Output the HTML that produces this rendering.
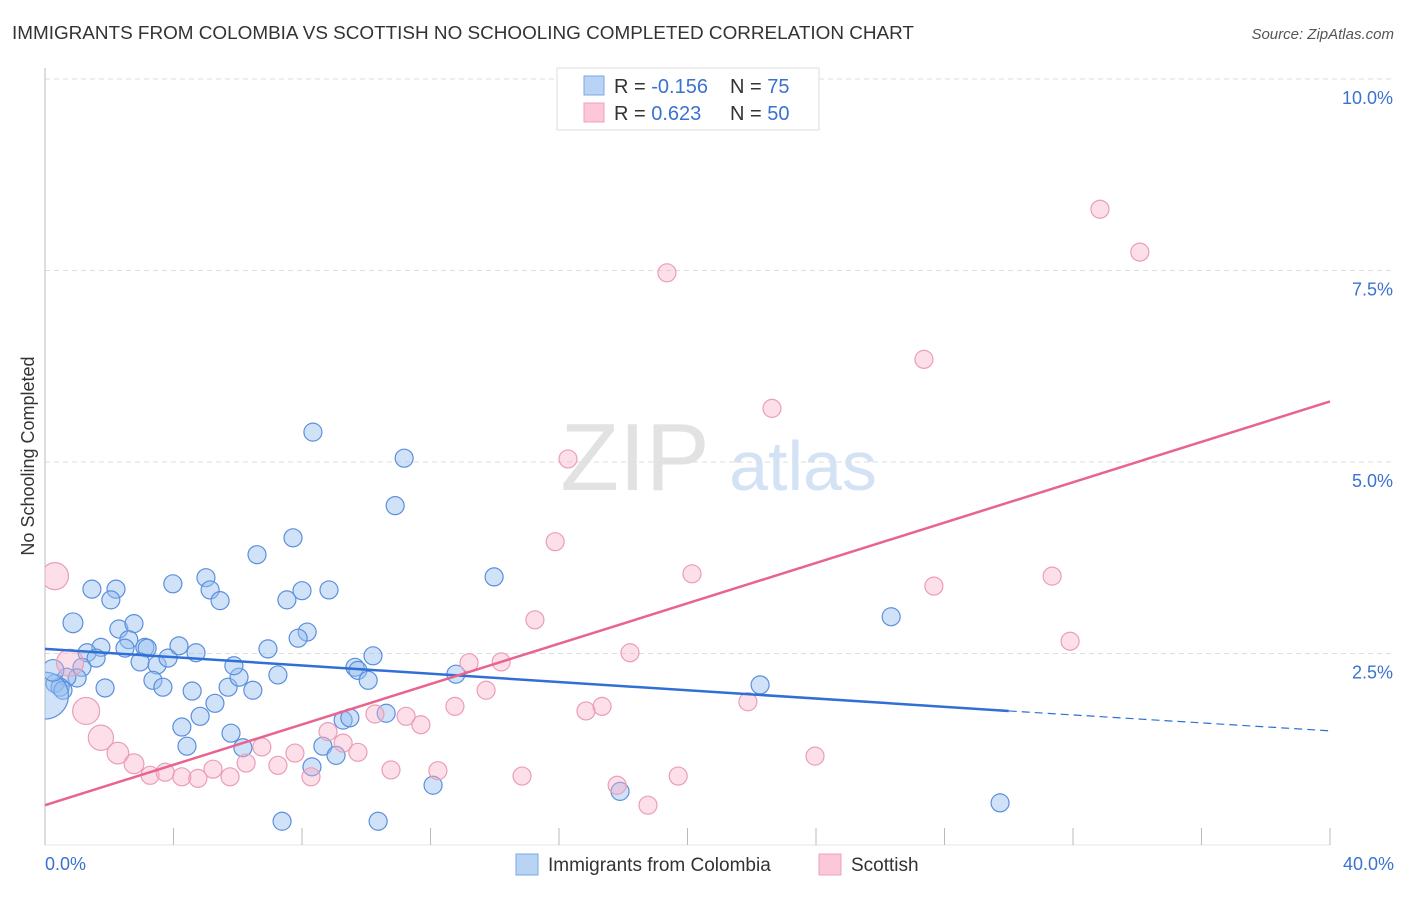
<!DOCTYPE html>
<html><head><meta charset="utf-8"><style>
body{margin:0;background:#fff;font-family:"Liberation Sans",sans-serif;}
svg text{font-family:"Liberation Sans",sans-serif;}
</style></head><body>
<svg id="chart" width="1406" height="892" xmlns="http://www.w3.org/2000/svg">
<defs><clipPath id="plotclip"><rect x="45" y="60" width="1360" height="786"/></clipPath></defs>
<text x="12" y="39" font-size="18.9" fill="#333">IMMIGRANTS FROM COLOMBIA VS SCOTTISH NO SCHOOLING COMPLETED CORRELATION CHART</text>
<text x="1394" y="39" font-size="15" fill="#555" text-anchor="end" font-style="italic">Source: ZipAtlas.com</text>
<text transform="translate(34,456) rotate(-90)" font-size="18" fill="#333" text-anchor="middle">No Schooling Completed</text>
<g>
<text x="635" y="490" font-size="96" fill="#e2e2e2" text-anchor="middle" font-family="Liberation Serif">ZIP</text>
<text x="803" y="490" font-size="70" fill="#d3e2f5" text-anchor="middle">atlas</text>
</g>
<g id="grid"></g>
<g id="axes"></g>
<g id="points" clip-path="url(#plotclip)"></g>
<g id="trends"></g>
<g>
<rect x="557" y="68" width="262" height="62" fill="#fff" stroke="#ddd"/>
<rect x="584" y="76" width="20" height="19" fill="#b9d3f5" stroke="#7aa8e6"/>
<rect x="584" y="103" width="20" height="19" fill="#fcc8d8" stroke="#eda2bb"/>
<text x="614" y="93" font-size="20" fill="#333">R = <tspan fill="#3b72d0">-0.156</tspan></text>
<text x="730" y="93" font-size="20" fill="#333">N = <tspan fill="#3b72d0">75</tspan></text>
<text x="614" y="120" font-size="20" fill="#333">R = <tspan fill="#3b72d0"> 0.623</tspan></text>
<text x="730" y="120" font-size="20" fill="#333">N = <tspan fill="#3b72d0">50</tspan></text>
</g>
<g>
<rect x="516" y="854" width="22" height="21" fill="#b9d3f5" stroke="#7aa8e6"/>
<text x="548" y="871" font-size="19" fill="#333">Immigrants from Colombia</text>
<rect x="819" y="854" width="22" height="21" fill="#fcc8d8" stroke="#eda2bb"/>
<text x="851" y="871" font-size="19" fill="#333">Scottish</text>
</g>
</svg>
<script>
const blueX=[1.46,2.21,2.05,3.98,5.01,5.14,5.45,0.87,2.30,2.77,2.61,2.49,3.11,3.18,1.74,1.31,1.59,1.15,1.00,0.68,0.31,0.47,0.56,0.0,0.25,1.87,2.96,3.49,3.83,4.17,4.70,3.36,3.67,4.58,5.70,6.04,5.88,6.47,6.94,7.25,5.29,4.83,4.26,4.42,5.79,6.16,6.60,7.72,7.53,8.00,8.84,8.16,7.88,9.65,9.74,10.06,10.21,10.62,9.28,9.49,8.65,9.06,8.31,12.08,7.38,10.37,12.79,8.34,11.18,10.90,13.98,26.34,22.26,29.73,17.90];
const blueY=[3.34,3.34,3.20,3.41,3.49,3.33,3.19,2.90,2.82,2.89,2.68,2.57,2.58,2.57,2.58,2.51,2.44,2.32,2.18,2.19,2.11,2.06,2.02,1.95,2.28,2.05,2.39,2.35,2.44,2.60,2.51,2.15,2.06,2.01,2.06,2.19,2.34,2.02,2.56,2.22,1.85,1.68,1.54,1.29,1.46,1.27,3.79,4.01,3.20,3.32,3.33,2.78,2.70,2.32,2.28,2.15,2.47,1.72,1.63,1.66,1.29,1.17,1.02,0.78,0.31,0.31,2.23,5.39,5.05,4.43,3.50,2.98,2.09,0.55,0.70];
const blueS=[1,1,1,1,1,1,1,1.1,1,1,1,1,1,1,1,1,1,1,1,1,1,1,1,2.6,1.2,1,1,1,1,1,1,1,1,1,1,1,1,1,1,1,1,1,1,1,1,1,1,1,1,1,1,1,1,1,1,1,1,1,1,1,1,1,1,1,1,1,1,1,1,1,1,1,1,1,1];
const pinkX=[0.31,0.78,1.28,1.74,2.27,2.77,3.27,3.74,4.26,4.76,5.23,5.76,6.26,6.75,7.25,7.78,8.28,8.81,9.28,9.74,10.27,11.24,11.70,10.77,12.23,12.76,13.20,13.73,14.20,15.25,15.88,16.28,16.84,17.34,18.21,17.81,18.77,19.71,14.85,19.36,20.14,21.88,22.63,23.97,27.36,27.67,31.35,31.91,32.84,34.08];
const pinkY=[3.51,2.38,1.75,1.40,1.20,1.06,0.91,0.95,0.89,0.87,0.99,0.89,1.07,1.28,1.04,1.20,0.89,1.48,1.33,1.21,1.71,1.68,1.57,0.98,0.97,1.81,2.38,2.02,2.39,2.94,3.96,5.04,1.75,1.81,2.51,0.78,0.52,0.90,0.90,7.47,3.54,1.87,5.70,1.16,6.34,3.38,3.51,2.66,8.30,7.74];
const pinkS=[1.5,1.5,1.5,1.4,1.2,1.1,1,1,1,1,1,1,1,1,1,1,1,1,1,1,1,1,1,1,1,1,1,1,1,1,1,1,1,1,1,1,1,1,1,1,1,1,1,1,1,1,1,1,1,1];
const yTicks=[2.5,5.0,7.5,10.0];
const xTickLabels=["0.0%","40.0%"];
const blueTrend=[2.56,1.75,1.49]; // at x=0, 30, 40
const pinkTrend=[0.52,5.79]; // at x=0, 40
const NS="http://www.w3.org/2000/svg";
const X0=45,X1=1330,Y0=845,Y10=79;
function sx(v){return X0+(X1-X0)*v/40;}
function sy(v){return Y0-(Y0-Y10)*v/10;}
function mk(tag,attrs,parent){const e=document.createElementNS(NS,tag);for(const k in attrs)e.setAttribute(k,attrs[k]);parent.appendChild(e);return e;}
const grid=document.getElementById('grid'),axes=document.getElementById('axes'),pts=document.getElementById('points'),tr=document.getElementById('trends');
yTicks.forEach(t=>{
 const l=mk('line',{x1:X0,x2:1394,y1:sy(t),y2:sy(t),stroke:'#ddd','stroke-dasharray':'5,4'},grid);
 
 
 const tx=mk('text',{x:1393,y:sy(t)+25,'font-size':18,fill:'#3b72d0','text-anchor':'end'},axes);
 tx.textContent=t.toFixed(1)+'%';
 
 
});
const ax=mk('line',{x1:X0,x2:X0,y1:68,y2:Y0,stroke:'#bbb'},axes);


const bx=mk('line',{x1:X0,x2:X1,y1:Y0,y2:Y0,stroke:'#e4e4e4'},axes);


for(let i=1;i<=10;i++){
 const t=mk('line',{x1:sx(i*4),x2:sx(i*4),y1:828,y2:Y0,stroke:'#bbb'},axes);
 
 
}
[[0,'start',45],[40,'end',1394]].forEach((d,i)=>{
 const t=mk('text',{x:d[2],y:870,'font-size':18,fill:'#3b72d0','text-anchor':d[1]},axes);
 t.textContent=xTickLabels[i];
 
 
});
blueX.forEach((v,i)=>{
 const c=mk('circle',{cx:sx(v),cy:sy(blueY[i]),r:9*blueS[i],fill:'rgba(150,190,240,0.45)',stroke:'#5b8fdd','stroke-width':1.2},pts);
 
 
});
pinkX.forEach((v,i)=>{
 const c=mk('circle',{cx:sx(v),cy:sy(pinkY[i]),r:9*pinkS[i],fill:'rgba(247,175,200,0.4)',stroke:'#eb9db8','stroke-width':1.2},pts);
 
 
});
const b1=mk('line',{x1:sx(0),y1:sy(blueTrend[0]),x2:sx(30),y2:sy(blueTrend[1]),stroke:'#2f6fd6','stroke-width':2.5},tr);


const b2=mk('line',{x1:sx(30),y1:sy(blueTrend[1]),x2:sx(40),y2:sy(blueTrend[2]),stroke:'#2f6fd6','stroke-width':1.2,'stroke-dasharray':'8,5'},tr);


const p1=mk('line',{x1:sx(0),y1:sy(pinkTrend[0]),x2:sx(40),y2:sy(pinkTrend[1]),stroke:'#e8648f','stroke-width':2.5},tr);


</script>
</body></html>
